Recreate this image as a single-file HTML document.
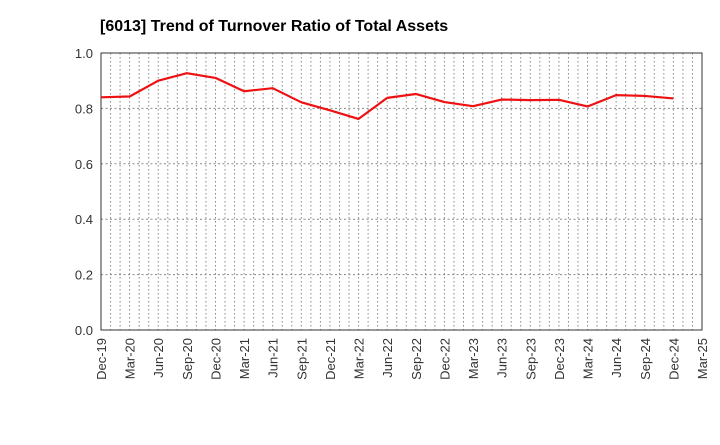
<!DOCTYPE html>
<html><head><meta charset="utf-8"><style>
body{margin:0;background:#fff;font-family:"Liberation Sans",sans-serif}
</style></head><body>
<svg id="chart" width="720" height="440" xmlns="http://www.w3.org/2000/svg">
<text x="100" y="31" font-size="16" font-weight="bold" font-family="Liberation Sans, sans-serif">[6013]  Trend of Turnover Ratio of Total Assets</text>
<g id="grid"></g><g id="axes"></g><g id="series"></g>
</svg>
<script>
const categories=["Dec-19","Mar-20","Jun-20","Sep-20","Dec-20","Mar-21","Jun-21","Sep-21","Dec-21","Mar-22","Jun-22","Sep-22","Dec-22","Mar-23","Jun-23","Sep-23","Dec-23","Mar-24","Jun-24","Sep-24","Dec-24","Mar-25"];
const values=[0.84,0.843,0.90,0.927,0.91,0.862,0.873,0.822,0.793,0.762,0.838,0.852,0.823,0.808,0.832,0.83,0.831,0.807,0.848,0.845,0.836];
const yTicks=[0,0.2,0.4,0.6,0.8,1.0];
const L=101,R=702,T=53,B=330;
const NS="http://www.w3.org/2000/svg";
const step=(R-L)/(categories.length-1);
const x=i=>L+i*step, y=v=>B-(v-0)/(1.0-0)*(B-T);
function mk(tag,attrs,parent){const e=document.createElementNS(NS,tag);for(const k in attrs)e.setAttribute(k,attrs[k]);parent.appendChild(e);return e;}
const grid=document.getElementById('grid'),axes=document.getElementById('axes'),ser=document.getElementById('series');
for(let m=1;m<(categories.length-1)*3;m++){
  const gx=L+m*step/3;
  const l=mk('line',{x1:gx,x2:gx,y1:T,y2:B,stroke:'#888','stroke-width':1,'stroke-dasharray':'1.5,2.5'},grid);
  
  
}
yTicks.forEach(t=>{
  if(t>0&&t<1){const l=mk('line',{x1:L,x2:R,y1:y(t),y2:y(t),stroke:'#888','stroke-width':1,'stroke-dasharray':'2,2.5'},grid);
  
  }
  const tx=mk('text',{x:L-8,y:y(t)+5,'text-anchor':'end','font-size':13,fill:'#333'},axes);
  tx.textContent=t.toFixed(1);
  
  
});
const frame=mk('rect',{x:L,y:T,width:R-L,height:B-T,fill:'none',stroke:'#333','stroke-width':1},axes);


categories.forEach((c,i)=>{
  const tx=mk('text',{x:0,y:0,'text-anchor':'end','font-size':13,fill:'#333',transform:`translate(${x(i)+5},${B+8}) rotate(-90)`},axes);
  tx.textContent=c;
  
  
});
const pl=mk('polyline',{points:values.map((v,i)=>x(i)+','+y(v)).join(' '),fill:'none',stroke:'#ee1111','stroke-width':2.2,'stroke-linejoin':'round'},ser);


</script>
</body></html>
